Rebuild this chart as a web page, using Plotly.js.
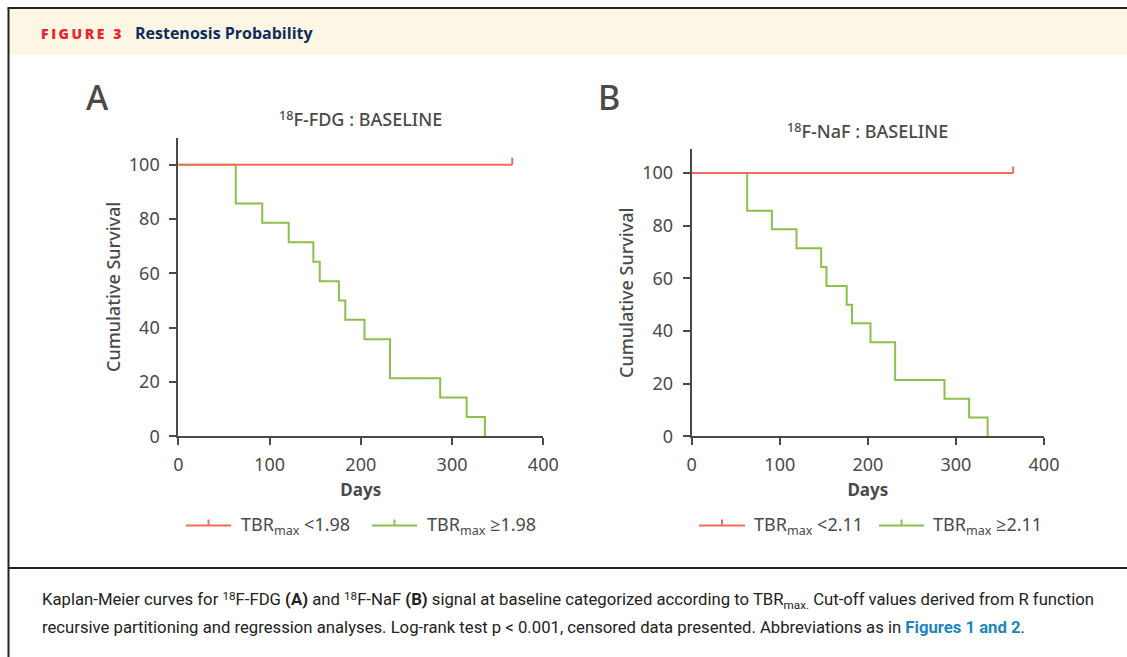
<!DOCTYPE html>
<html>
<head>
<meta charset="utf-8">
<script src="https://cdn.plot.ly/plotly-3.0.1.min.js"></script>
<style>html,body{margin:0;padding:0;background:#fff;}#chart{width:1127px;height:657px;}</style>
</head>
<body>
<div id="chart"></div>
<script>
// ---------- DATA ----------
// Panel A: 18F-FDG baseline
const fdgHighDays = [0, 63, 92, 121, 148, 155, 176, 183, 204, 232, 287, 316, 336];
const fdgHighSurv = [100, 85.7, 78.6, 71.4, 64.3, 57.1, 50.0, 42.9, 35.7, 21.4, 14.3, 7.1, 0];
const fdgLowDays = [0, 366];
const fdgLowSurv = [100, 100];
const fdgLowCensorDays = [366];
const fdgLowCensorSurv = [100];
// Panel B: 18F-NaF baseline
const nafHighDays = [0, 63, 91, 119, 147, 153, 176, 182, 203, 231, 287, 315, 336];
const nafHighSurv = [100, 85.7, 78.6, 71.4, 64.3, 57.1, 50.0, 42.9, 35.7, 21.4, 14.3, 7.1, 0];
const nafLowDays = [0, 365];
const nafLowSurv = [100, 100];
const nafLowCensorDays = [365];
const nafLowCensorSurv = [100];

// super/subscript helpers (single styled span, no zero-width spacer)
const SUP = t => '<span style="font-size:70%;baseline-shift:0.45em">' + t + '</span>';
const SUB = t => '<span style="font-size:70%;baseline-shift:-0.3em">' + t + '</span>';

// Labels
const panelTitles = [SUP('18') + 'F-FDG : BASELINE', SUP('18') + 'F-NaF : BASELINE'];
const legendA = ['TBR' + SUB('max') + ' &lt;1.98', 'TBR' + SUB('max') + ' ≥1.98'];
const legendB = ['TBR' + SUB('max') + ' &lt;2.11', 'TBR' + SUB('max') + ' ≥2.11'];
const xTicks = [0, 100, 200, 300, 400];
const yTicks = [0, 20, 40, 60, 80, 100];

// ---------- STYLE ----------
const W = 1127, H = 657;
const RED = '#f26c5b', GREEN = '#8cc04b', AX = '#4a4a4a';
const FONT = 'Noto Sans, Open Sans, sans-serif';
const px = x => x / W;
const py = y => 1 - y / H;
const CENSOR_H = 2.5;

function censorTrace(days, surv, color, xa, ya) {
  const xs = [], ys = [];
  days.forEach((d, i) => { xs.push(d, d, null); ys.push(surv[i], surv[i] + CENSOR_H, null); });
  return {x: xs, y: ys, xaxis: xa, yaxis: ya, mode: 'lines', line: {color: color, width: 2}, showlegend: false, hoverinfo: 'skip'};
}

const traces = [
  {x: fdgHighDays, y: fdgHighSurv, xaxis: 'x', yaxis: 'y', mode: 'lines', line: {shape: 'hv', color: GREEN, width: 2}, name: 'TBRmax ≥1.98', showlegend: false},
  {x: fdgLowDays, y: fdgLowSurv, xaxis: 'x', yaxis: 'y', mode: 'lines', line: {shape: 'hv', color: RED, width: 2}, name: 'TBRmax <1.98', showlegend: false},
  censorTrace(fdgLowCensorDays, fdgLowCensorSurv, RED, 'x', 'y'),
  {x: nafHighDays, y: nafHighSurv, xaxis: 'x2', yaxis: 'y2', mode: 'lines', line: {shape: 'hv', color: GREEN, width: 2}, name: 'TBRmax ≥2.11', showlegend: false},
  {x: nafLowDays, y: nafLowSurv, xaxis: 'x2', yaxis: 'y2', mode: 'lines', line: {shape: 'hv', color: RED, width: 2}, name: 'TBRmax <2.11', showlegend: false},
  censorTrace(nafLowCensorDays, nafLowCensorSurv, RED, 'x2', 'y2')
];

function xAxis(d0, d1, anchor) {
  return {domain: [px(d0), px(d1)], range: [0, 400], anchor: anchor, tickvals: xTicks, ticktext: xTicks.map(String),
    showline: true, linecolor: AX, linewidth: 2, ticks: 'outside', ticklen: 7, tickwidth: 2, tickcolor: AX,
    showgrid: false, zeroline: false, fixedrange: true, ticklabelstandoff: 4,
    tickfont: {family: FONT, size: 18, color: AX},
    title: {text: 'Days', standoff: 9, font: {family: FONT, size: 17, color: AX, weight: 700}}};
}
function yAxis(top, bottom, ymax, anchor) {
  return {domain: [py(bottom), py(top)], range: [0, ymax], anchor: anchor, tickvals: yTicks, ticktext: yTicks.map(String),
    showline: true, linecolor: AX, linewidth: 2, ticks: 'outside', ticklen: 7, tickwidth: 2, tickcolor: AX,
    showgrid: false, zeroline: false, fixedrange: true, ticklabelstandoff: 6,
    tickfont: {family: FONT, size: 18, color: AX},
    title: {text: 'Cumulative Survival', standoff: 4, font: {family: FONT, size: 18, color: AX, weight: 500}}};
}

const shapes = [
  {type: 'rect', xref: 'paper', yref: 'paper', x0: px(9), x1: 1, y0: py(55), y1: py(9), fillcolor: '#fdf6e4', line: {width: 0}, layer: 'below'},
  {type: 'line', xref: 'paper', yref: 'paper', x0: px(7.5), x1: 1, y0: py(8), y1: py(8), line: {color: '#222', width: 2}},
  {type: 'line', xref: 'paper', yref: 'paper', x0: px(8.5), x1: px(8.5), y0: py(8), y1: 0, line: {color: '#222', width: 2}},
  {type: 'line', xref: 'paper', yref: 'paper', x0: px(8), x1: 1, y0: py(568), y1: py(568), line: {color: '#222', width: 2}}
];
// legend samples (line with censor tick)
function legendSample(x0, x1, y, color) {
  const xm = (x0 + x1) / 2;
  shapes.push({type: 'line', xref: 'paper', yref: 'paper', x0: px(x0), x1: px(x1), y0: py(y), y1: py(y), line: {color: color, width: 2}});
  shapes.push({type: 'line', xref: 'paper', yref: 'paper', x0: px(xm), x1: px(xm), y0: py(y), y1: py(y - 6), line: {color: color, width: 2}});
}
legendSample(186, 231, 525.5, RED);
legendSample(372, 417, 525.5, GREEN);
legendSample(699, 745, 525.5, RED);
legendSample(879, 924, 525.5, GREEN);

function ann(text, x, y, opts) {
  return Object.assign({text: text, x: px(x), y: py(y), xref: 'paper', yref: 'paper', showarrow: false,
    xanchor: 'left', yanchor: 'middle', font: {family: FONT, size: 18, color: AX}}, opts || {});
}
const CAP = 'Roboto, sans-serif';
const annotations = [
  ann('<span style="letter-spacing:2.6px">FIGURE 3</span>', 39, 33, {font: {family: 'Open Sans', size: 14, color: '#e5262e', weight: 800}}),
  ann('Restenosis Probability', 133, 33, {font: {family: 'Open Sans', size: 16, color: '#0e2c5c', weight: 700}}),
  ann('A', 97, 97, {xanchor: 'center', font: {family: FONT, size: 34, color: AX, weight: 500}}),
  ann('B', 609, 97, {xanchor: 'center', font: {family: FONT, size: 34, color: AX, weight: 500}}),
  ann(panelTitles[0], 360, 119, {xanchor: 'center', font: {family: FONT, size: 18, color: AX, weight: 500}}),
  ann(panelTitles[1], 867, 131, {xanchor: 'center', font: {family: FONT, size: 18, color: AX, weight: 500}}),
  ann(legendA[0], 239, 525, {font: {family: FONT, size: 18, color: AX}}),
  ann(legendA[1], 425, 525, {font: {family: FONT, size: 18, color: AX}}),
  ann(legendB[0], 752, 525, {font: {family: FONT, size: 18, color: AX}}),
  ann(legendB[1], 931, 525, {font: {family: FONT, size: 18, color: AX}}),
  ann('Kaplan-Meier curves for ' + SUP('18') + 'F-FDG <b>(A)</b> and ' + SUP('18') + 'F-NaF <b>(B)</b> signal at baseline categorized according to TBR' + SUB('max.') + ' Cut-off values derived from R function',
      40, 600, {font: {family: CAP, size: 16.7, color: '#222'}}),
  ann('recursive partitioning and regression analyses. Log-rank test p &lt; 0.001, censored data presented. Abbreviations as in <b><span style="color:#1b86bd">Figures 1 and 2</span></b>.',
      40, 627, {font: {family: CAP, size: 16.7, color: '#222'}})
];

const layout = {
  width: W, height: H, margin: {l: 0, r: 0, t: 0, b: 0}, paper_bgcolor: '#fff', plot_bgcolor: 'rgba(0,0,0,0)',
  showlegend: false, font: {family: FONT, color: AX, size: 16},
  xaxis: xAxis(178.3, 543.3, 'y'), yaxis: yAxis(137.5, 436.3, 110, 'x'),
  xaxis2: xAxis(691.7, 1044, 'y2'), yaxis2: yAxis(149.3, 436.3, 109, 'x2'),
  shapes: shapes, annotations: annotations
};
Plotly.newPlot('chart', traces, layout, {displayModeBar: false, staticPlot: true});
</script>
</body>
</html>
